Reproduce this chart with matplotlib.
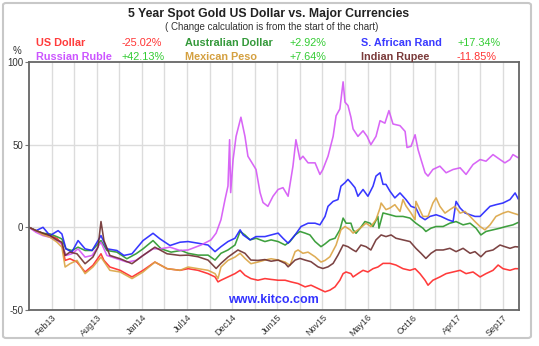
import numpy as np
import pandas as pd
import matplotlib
matplotlib.use("Agg")
import matplotlib.pyplot as plt
from matplotlib.patches import FancyBboxPatch

plt.rcParams["font.family"] = ["Liberation Sans", "DejaVu Sans"]

# start of the 5 year window, x values are days from here
START = pd.Timestamp("2012-12-03")
GRID_STEP = 83.7   # days between vertical grid lines
N_GRID = 21.7      # plot width in grid steps

# US Dollar
usd_days = [0, 26, 52, 78, 104, 122, 134, 152, 178, 208, 237, 267, 278, 300, 338, 382, 423, 467, 512, 560,
            590, 627, 664, 690, 701, 712, 738, 764, 783, 801, 823, 849, 875, 898, 924, 950, 972, 998, 1024,
            1046, 1072, 1098, 1116, 1135, 1153, 1165, 1176, 1194, 1202, 1220, 1239, 1257, 1276, 1294, 1313,
            1339, 1361, 1387, 1413, 1432, 1450, 1469, 1480, 1498, 1524, 1547, 1573, 1599, 1621, 1647, 1673,
            1695, 1721, 1740, 1758, 1784, 1803, 1814]
usd_pct = [0, -2, -3.6, -5, -6.7, -10, -20, -19, -21, -27, -23, -16, -20, -24, -26, -30, -26, -21, -25, -26,
           -25, -26, -28, -30, -33, -32, -30, -28, -26, -29, -31, -32, -31, -31.5, -32, -32, -33, -34, -36,
           -35, -37, -39, -38, -36, -32, -28, -27, -28, -30, -28, -26, -27, -25, -24, -21.8,
           -21.8, -22.8, -25, -26, -25, -28, -32, -35, -32, -30, -28, -27, -26, -28, -27, -30,
           -28, -26, -22.8, -25, -26, -25, -25.02]

# Russian Ruble
rub_days = [0, 26, 52, 78, 104, 122, 137, 159, 182, 208, 234, 267, 289, 326, 363, 397, 423, 460, 486, 523,
            560, 590, 638, 675, 694, 712, 727, 738, 744, 748, 757, 768, 786, 801, 812, 842, 857, 868, 886,
            905, 924, 942, 961, 979, 990, 1005, 1016, 1035, 1061, 1079, 1090, 1109, 1128, 1139, 1153, 1165,
            1172, 1183, 1194, 1202, 1220, 1239, 1254, 1268, 1287, 1302, 1320, 1335, 1350, 1376, 1395, 1402,
            1417, 1432, 1443, 1454, 1469, 1480, 1498, 1524, 1547, 1573, 1599, 1621, 1647, 1673, 1695, 1721,
            1747, 1765, 1784, 1795, 1814]
rub_pct = [0, -3, -5, -6, -8, -10, -17, -16, -13, -18, -17, -9, -17, -19, -21, -20, -17, -13, -13, -12,
           -14, -13.7, -10.7, -7.6, -3.5, 4.6, 16.8, 25, 53, 21, 41, 55, 66.6, 55, 43, 35, 21, 15, 12.7,
           18.8, 22.9, 24, 18.8, 37, 53, 41, 43, 39, 39, 32, 35, 43, 55, 67.5, 71.6, 88,
           75.7, 73.7, 66.6, 59.5, 55, 58.4, 55, 50, 55, 64.5, 63, 70.6, 62.5, 61.5, 58, 48.3,
           49, 56, 47, 41, 33, 31, 35, 37, 33, 35, 36, 32, 38, 41, 40, 44,
           41, 39, 41, 44, 42.13]

# Australian Dollar
aud_days = [0, 26, 52, 78, 104, 122, 137, 159, 182, 208, 234, 267, 289, 326, 363, 397, 423, 460, 490, 527,
            564, 590, 627, 664, 690, 712, 738, 764, 783, 801, 820, 842, 875, 898, 924, 950, 968, 987, 1005,
            1024, 1042, 1061, 1083, 1098, 1116, 1135, 1153, 1165, 1176, 1194, 1202, 1213, 1228, 1246, 1265,
            1276, 1294, 1298, 1313, 1339, 1361, 1387, 1413, 1435, 1461, 1472, 1491, 1510, 1536, 1561, 1584,
            1610, 1636, 1658, 1676, 1695, 1721, 1747, 1769, 1795, 1814]
aud_pct = [0, -2, -3.6, -4, -5.7, -7, -13, -14, -12, -14, -14, -8, -14, -15, -19, -16, -13, -8, -13, -15,
           -14, -15.7, -16.8, -16.8, -19.8, -15.7, -13.7, -10.7, -2.5, -4.6, -7.6, -6.6, -8.6, -7.6, -8.6, -10.7, -8.6, -4.6, -2.5,
           -3.5, -4.6, -8.6, -11.7, -10, -7.6, -6.6, -1.5, 5.6, 2.5, 2.5, -1.5, -3.6, -0.6, 3.5, 2.5,
           0.5, 6.6, -0.5, 8.7, 7.6, 6.6, 6.6, 5.6, 2.5, -0.5, -2.5, -0.5, 0.5, 0.5, 2.5, 3.5,
           1.5, 2.5, -0.5, -4.6, -2.5, -1.5, -0.5, 0.5, 1.5, 2.92]

# Mexican Peso
mxn_days = [0, 26, 52, 78, 104, 122, 134, 152, 178, 208, 237, 267, 300, 338, 382, 423, 467, 512, 560, 590,
            627, 664, 690, 701, 712, 738, 764, 783, 801, 823, 849, 875, 898, 924, 950, 968, 987, 998, 1016,
            1035, 1061, 1083, 1098, 1116, 1139, 1157, 1172, 1191, 1202, 1228, 1250, 1268, 1287, 1302, 1306,
            1324, 1339, 1357, 1376, 1387, 1398, 1417, 1432, 1435, 1461, 1480, 1498, 1510, 1524, 1543, 1561,
            1580, 1599, 1617, 1636, 1654, 1673, 1691, 1710, 1732, 1758, 1777, 1795, 1814]
mxn_pct = [0, -2, -4.5, -6, -9, -12, -24, -22, -20, -28, -24, -18, -26, -27, -31, -27, -21, -25, -26, -24,
           -25, -26, -28, -31, -24, -20, -18, -15.7, -18.8, -22, -21, -19.8, -19, -19.8, -21, -23, -14.7, -13.7, -15.7,
           -15, -17.8, -21, -20, -17.8, -10.7, -1.5, 0.5, -1.5, -3.5, -0.6, 2.5, 0.5, 4.6, 11.7, 14.7,
           10.7, 11.7, 13.7, 9.6, 16.8, 13, 8.6, 4.6, 15.7, 6.6, 6.6, 14.7, 17.8, 12.7, 8.6, 10.7,
           12.7, 8.6, 9.6, 6.6, 3.5, 0.5, -1.5, 1.5, 6.6, 8.6, 9.6, 8.6, 7.64]

# S. African Rand
zar_days = [0, 26, 52, 78, 108, 122, 137, 159, 182, 208, 234, 267, 289, 326, 352, 382, 423, 460, 486, 523,
            560, 590, 627, 664, 690, 712, 738, 764, 783, 794, 820, 842, 875, 898, 924, 942, 961, 987, 1009,
            1035, 1061, 1079, 1098, 1109, 1128, 1146, 1157, 1172, 1183, 1194, 1209, 1220, 1239, 1257, 1276,
            1287, 1302, 1313, 1324, 1339, 1357, 1376, 1398, 1417, 1435, 1450, 1469, 1487, 1510, 1528, 1554,
            1573, 1584, 1599, 1617, 1636, 1654, 1673, 1691, 1710, 1732, 1758, 1784, 1803, 1814]
zar_pct = [0, -2, 0, -5, -2, -4, -13, -15, -8, -13, -14, -5, -13, -14, -17, -16, -8, -3.6, -7, -11,
           -9, -8.6, -9.6, -10.7, -14.7, -11.7, -8.6, -6.6, -1.5, -4.6, -7.6, -5.6, -5.6, -4.6, -3.5, -6.6, -9.6, -4.6, 0.5,
           2.5, 2.5, 1.5, 6.6, 12.7, 15.7, 16.8, 24.9, 27, 29, 27, 24, 18.8, 22.9, 18.8, 24.9,
           31, 33, 26, 26, 21.8, 17.8, 20.8, 16.8, 12.7, 11.7, 6.6, 4.6, 6.6, 7.6, 6.6, 4.6,
           3.5, 15.7, 11.7, 8.7, 7.6, 6.6, 6.6, 9.6, 12.7, 13.7, 14.7, 16.8, 20.8, 17.34]

# Indian Rupee
inr_days = [0, 26, 52, 78, 104, 122, 134, 152, 178, 208, 237, 256, 267, 278, 300, 338, 382, 423, 467, 512,
            560, 590, 627, 664, 694, 712, 738, 775, 801, 823, 849, 875, 898, 924, 950, 961, 987, 1005, 1024,
            1046, 1072, 1090, 1109, 1128, 1146, 1165, 1183, 1202, 1213, 1231, 1250, 1268, 1287, 1306, 1324,
            1343, 1361, 1387, 1413, 1435, 1454, 1472, 1491, 1510, 1536, 1561, 1584, 1610, 1636, 1654, 1676,
            1695, 1721, 1747, 1765, 1784, 1803, 1814]
inr_pct = [0, -2, -3.6, -5, -7.7, -9, -17, -15, -16, -22, -18, -12, 3.5, -8, -17, -19, -22, -17, -12, -16,
           -17, -16.8, -17.8, -19.8, -24.9, -21.8, -18, -13.7, -15.7, -19.8, -20, -19.5, -20.5, -19.8, -21.8, -23.9, -19.8, -18.8, -19.8,
           -20.8, -23.9, -24.9, -23.9, -21.8, -16.8, -10.7, -11.7, -13.7, -14.7, -10.7, -11.7, -13.7, -7.6, -4.6, -5.6,
           -4.6, -6.6, -7.6, -8.6, -12.7, -15.7, -18.8, -15.7, -13.7, -13.7, -12.7, -14.7, -12.7, -15.7, -14.7, -17.8,
           -14.7, -13.7, -10.7, -11.7, -12.7, -11.7, -11.85]

# legend layout: (name, days, pct, line colour, label colour, row, column)
series = [
    ("US Dollar", usd_days, usd_pct, "#ff2626", "#ff3b3b", 0, 0),
    ("Australian Dollar", aud_days, aud_pct, "#2a962a", "#34993a", 0, 1),
    ("S. African Rand", zar_days, zar_pct, "#2222ff", "#3a3aff", 0, 2),
    ("Russian Ruble", rub_days, rub_pct, "#d455f5", "#cc55ff", 1, 0),
    ("Mexican Peso", mxn_days, mxn_pct, "#dba443", "#d4a040", 1, 1),
    ("Indian Rupee", inr_days, inr_pct, "#6e2f2f", "#7a3a3a", 1, 2),
]

W, H = 539, 346
fig = plt.figure(figsize=(W / 100, H / 100), dpi=100)


def fx(x):
    return x / W


def fy(y):
    return 1 - y / H


# outer frame of the graphic
fig.patches.append(FancyBboxPatch((fx(3), fy(338)), fx(528), 335 / H,
                                  boxstyle="round,pad=0,rounding_size=0.006",
                                  transform=fig.transFigure, fill=False,
                                  edgecolor="#c8c8c8", linewidth=1.5))

ax = fig.add_axes([fx(29), fy(310), fx(518.7) - fx(29), fy(62) - fy(310)])

for name, days, pct, lc, tc, row, col in series:
    ax.plot(days, pct, color=lc, linewidth=1.15, alpha=0.9)

ax.set_xlim(0, N_GRID * GRID_STEP)
ax.set_ylim(-50, 100)

grid_x = np.arange(0, 22) * GRID_STEP
for gx in grid_x[1:]:
    ax.axvline(gx, color="#dcdcdc", linewidth=1.0, zorder=0)
for gy in (0, 50):
    ax.axhline(gy, color="#dcdcdc", linewidth=1.0, zorder=0)

label_x = grid_x[1::2]
ax.set_xticks(label_x)
ax.set_xticklabels([(START + pd.Timedelta(days=float(d))).strftime("%b%y") for d in label_x],
                   rotation=45, ha="right", rotation_mode="anchor", fontsize=6.5, color="#333333")
ax.tick_params(axis="x", length=0, pad=2)
ax.set_yticks([-50, 0, 50, 100])
ax.set_yticklabels(["-50", "0", "50", "100"], fontsize=7, color="#333333")
ax.tick_params(axis="y", length=3, width=0.8, color="#777777", pad=1)

for sp in ax.spines.values():
    sp.set_color("#666666")
    sp.set_linewidth(1.3)

ax.text(0.5, 0.018, "www.kitco.com", transform=ax.transAxes, ha="center", va="bottom",
        fontsize=9, fontweight="bold", color="#3333ff")

fig.text(fx(269), fy(14.5), "5 Year Spot Gold US Dollar vs. Major Currencies",
         ha="center", va="center", fontsize=8.8, fontweight="bold", color="#222222")
fig.text(fx(272), fy(27), "( Change calculation is from the start of the chart)",
         ha="center", va="center", fontsize=7, color="#333333")
fig.text(fx(17), fy(51), "%", ha="center", va="center", fontsize=7, color="#333333")

name_x = [36, 185, 361]
value_x = [122, 289, 457]
row_y = [43, 57]
for name, days, pct, lc, tc, row, col in series:
    fig.text(fx(name_x[col]), fy(row_y[row]), name, ha="left", va="center",
             fontsize=7.8, fontweight="bold", color=tc)
    final = pct[-1]
    fig.text(fx(value_x[col]), fy(row_y[row]), f"{final:+.2f}%", ha="left", va="center",
             fontsize=7.8, color="#33cc33" if final > 0 else "#ff3333")

fig.savefig("out.png", dpi=100)
